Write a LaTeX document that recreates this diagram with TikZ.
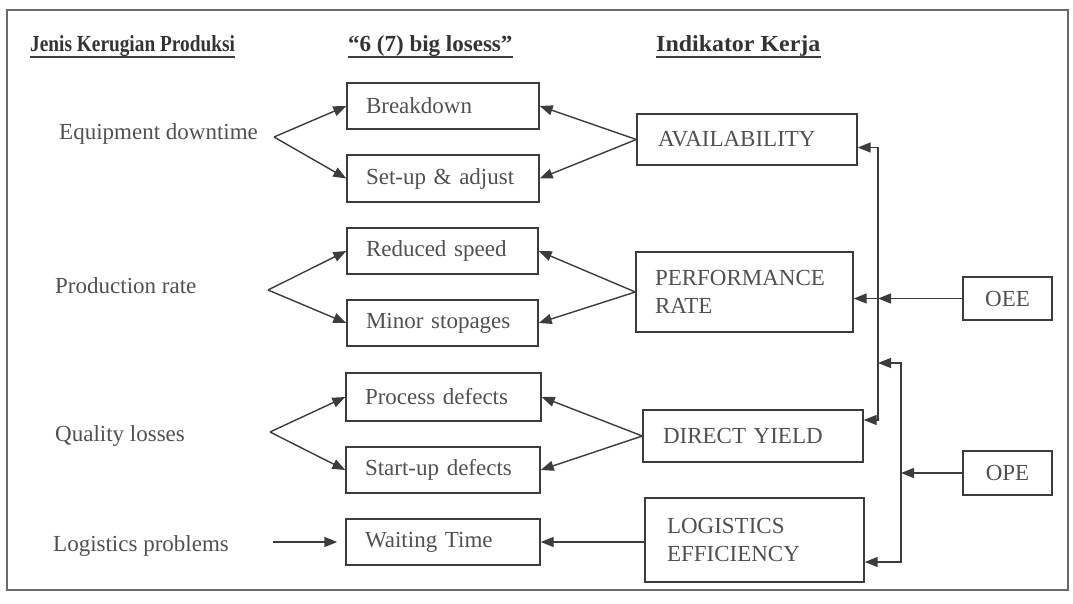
\documentclass[tikz,border=0pt]{standalone}
\usepackage{fontspec}
\setmainfont{Liberation Serif}
\usetikzlibrary{arrows.meta,calc}
\definecolor{ink}{HTML}{3C3C3C}
\definecolor{txt}{HTML}{505050}
\definecolor{frame}{HTML}{6A6A6A}
\begin{document}
\begin{tikzpicture}[x=1pt,y=-1pt,
  every node/.style={font=\fontsize{23}{28}\selectfont, text=txt},
  box/.style={draw=ink, line width=1.4pt, rectangle, inner xsep=19pt, inner ysep=0pt, align=left},
  lbl/.style={anchor=base west, inner sep=0pt},
  head/.style={anchor=base west, inner sep=0pt, font=\fontsize{23}{28}\selectfont\bfseries, text=black!80},
  link/.style={draw=ink, line width=1.4pt},
  arr/.style={link, -{Triangle[length=13pt,width=10pt]}},
  uline/.style={draw=ink, line width=1.2pt},
]
\useasboundingbox (0,0) rectangle (1073,604);
\draw[draw=frame, line width=1.5pt] (7,10) rectangle (1068,590);

% column headings
\node[head] (h1) at (30,52) {\scalebox{0.84}[1]{Jenis Kerugian Produksi}};
\node[head] (h2) at (348,52) {“6 (7) big losess”};
\node[head] (h3) at (656,52) {\scalebox{1.04}[1]{Indikator Kerja}};
\foreach \h in {h1,h2,h3}
  \draw[uline] ($(\h.base west)+(0,5)$) -- ($(\h.base east)+(0,5)$);

% kinds of production loss
\node[lbl] (eq) at (59,140) {Equipment downtime};
\node[lbl] (prod) at (55,293) {Production rate};
\node[lbl] (ql) at (55,441) {Quality losses};
\node[lbl] (lp) at (53,551) {Logistics problems};

% the big losses
\node[box, text width=154pt, minimum height=46pt] (bd) at (443,106) {Breakdown};
\node[box, text width=154pt, minimum height=47pt] (su) at (443,178.5) {Set-up \& adjust};
\node[box, text width=153pt, minimum height=46pt] (rs) at (442.5,251) {Reduced speed};
\node[box, text width=153pt, minimum height=46pt] (ms) at (442.5,323) {Minor stopages};
\node[box, text width=157pt, minimum height=48pt] (pd) at (443.5,397) {Process defects};
\node[box, text width=156pt, minimum height=46pt] (sd) at (443,470) {Start-up defects};
\node[box, text width=156pt, minimum height=46pt] (wt) at (443,542) {Waiting Time};

% performance indicators
\node[box, inner xsep=21pt, text width=178pt, minimum height=51pt] (av) at (747,139.5) {AVAILABILITY};
\node[box, text width=179pt, minimum height=80pt] (pr) at (744.5,292) {PERFORMANCE\\RATE};
\node[box, inner xsep=20pt, text width=180pt, minimum height=52pt] (dy) at (753,436) {DIRECT YIELD};
\node[box, inner xsep=22pt, text width=175pt, minimum height=84pt] (le) at (754.5,540) {LOGISTICS\\EFFICIENCY};
\node[box, inner xsep=0pt, text width=89pt, align=center, minimum height=43pt] (oee) at (1007.5,298.5) {OEE};
\node[box, inner xsep=0pt, text width=89pt, align=center, minimum height=44pt] (ope) at (1007.5,473) {OPE};

% loss kinds to big losses
\coordinate (f1) at (274,137);
\coordinate (f2) at (268,290);
\coordinate (f3) at (270,432);
\coordinate (f4) at (273,542);
\draw[arr] (f1) -- (bd.west);
\draw[arr] (f1) -- (su.west);
\draw[arr] (f2) -- (rs.west);
\draw[arr] (f2) -- (ms.west);
\draw[arr] (f3) -- (pd.west);
\draw[arr] (f3) -- (sd.west);
\draw[arr, shorten >=8pt] (f4) -- (f4 -| wt.west);

% indicators to big losses
\draw[arr] (av.west) -- (bd.east);
\draw[arr] (av.west) -- (su.east);
\draw[arr] (pr.west) -- (rs.east);
\draw[arr] (pr.west) -- (ms.east);
\draw[arr] (dy.west) -- (pd.east);
\draw[arr] (dy.west) -- (sd.east);
\draw[arr] (le.west |- wt.east) -- (wt.east);

% OEE bus
\coordinate (j1) at (878,298.5);
\draw[arr] (oee.west) -- (j1);
\draw[arr] (j1) -- (j1 -| pr.east);
\draw[arr] (j1) |- ($(av.east)+(0,8)$);
\draw[arr] (j1) |- ($(dy.east)+(0,-16)$);

% OPE bus
\coordinate (j2) at (901,473);
\coordinate (t1) at (878,363);
\draw[arr] (ope.west) -- (j2);
\draw[arr] (j2) |- (t1);
\draw[arr] (j2) |- ($(le.east)+(0,22)$);
\end{tikzpicture}
\end{document}
